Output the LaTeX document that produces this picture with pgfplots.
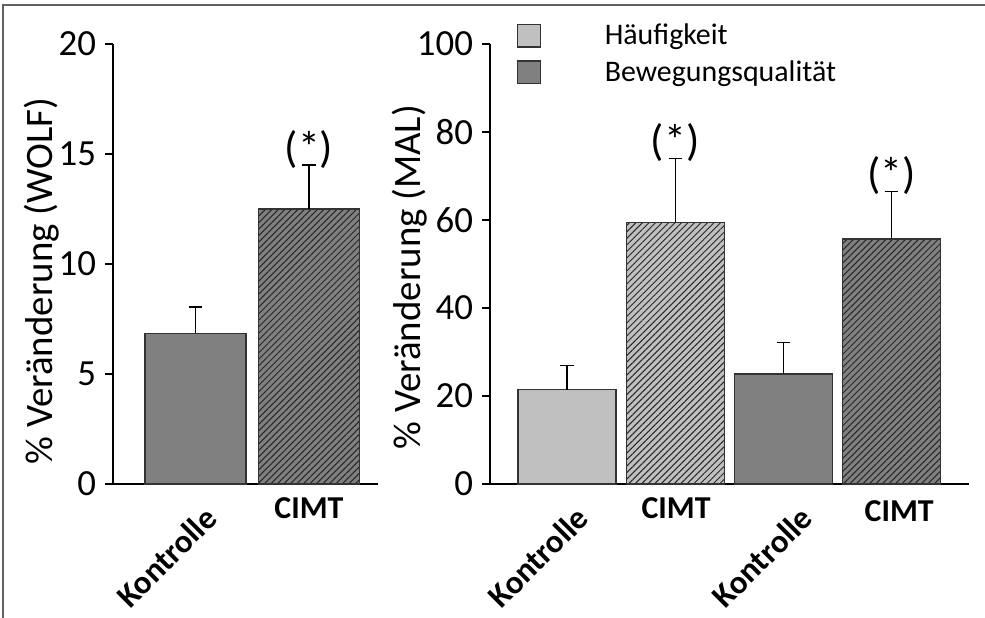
\documentclass[border=0pt]{standalone}
\usepackage{pgfplots}
\pgfplotsset{compat=1.18}
\usepackage{fontspec}
\setmainfont{Carlito}
\usetikzlibrary{patterns.meta,calc}
\definecolor{lightg}{HTML}{C0C0C0}
\definecolor{darkg}{HTML}{808080}
\definecolor{framec}{HTML}{606060}
\tikzset{
  hatch/.style={postaction={pattern={Lines[angle=45,distance=2.3bp,line width=0.5bp]}, pattern color=black!85}},
  klab/.style={font=\bfseries\fontsize{16.5}{18}\selectfont, rotate=45, anchor=center},
  clab/.style={font=\bfseries\fontsize{16}{18}\selectfont, anchor=center},
  slab/.style={font=\fontsize{22}{24}\selectfont, anchor=center},
}
\pgfplotsset{
  mybase/.style={
    scale only axis,
    axis lines*=left,
    height=220bp,
    ymin=0,
    xtick=\empty,
    tick align=outside,
    major tick length=4bp,
    axis line style={line width=0.9bp, black},
    x axis line style={shorten <=-3bp},
    ytick style={line width=0.9bp, black},
    /pgf/number format/assume math mode=true,
    yticklabel style={font=\fontsize{18.5}{20}\selectfont, xshift=-1bp},
    ylabel style={font=\fontsize{19.5}{22}\selectfont, anchor=center},
    clip=false,
  },
  barst/.style={ybar, bar width=0.89, bar shift=0pt, draw=black!80, line width=0.6bp,
    error bars/y dir=plus, error bars/y explicit,
    error bars/error bar style={line width=0.6bp, black},
    error bars/error mark options={rotate=90, line width=0.6bp, black, mark size=3.3bp}},
}
\begin{document}
\begin{tikzpicture}
\useasboundingbox (0,0) rectangle (492.5bp,-309bp);
\draw[framec, line width=0.9bp] (1.5bp,-330bp) -- (1.5bp,-2.5bp) -- (520bp,-2.5bp);
% Left panel
\begin{axis}[mybase,
  at={(56.5bp,-242bp)}, anchor=south west,
  width=132.5bp,
  xmin=-0.727, xmax=1.608,
  ymax=20, ytick={0,5,10,15,20},
  ylabel={\% Veränderung (WOLF)},
  ylabel style={at={(axis description cs:-0.268,0.461)}},
]
\addplot[barst, fill=darkg] coordinates {(0,6.85) +- (0,1.2)};
\addplot[barst, fill=darkg, hatch] coordinates {(1,12.5) +- (0,2.0)};
\node[slab] at ($(axis cs:1,14.5)+(0bp,8bp)$) {(*)};
\node[klab] at ($(axis cs:0,0)+(-14.5bp,-36.5bp)$) {Kontrolle};
\node[clab] at ($(axis cs:1,0)+(0bp,-12bp)$) {CIMT};
\end{axis}
% Right panel
\begin{axis}[mybase,
  at={(245bp,-242bp)}, anchor=south west,
  width=239.5bp,
  xmin=-0.713, xmax=3.72,
  ymax=100, ytick={0,20,40,60,80,100},
  ylabel={\% Veränderung (MAL)},
  ylabel style={at={(axis description cs:-0.167,0.47)}},
  legend style={draw=none, fill=none, at={(axis description cs:0.056,1.056)}, anchor=north west,
    font=\fontsize{15}{17}\selectfont, row sep=2.5bp, inner sep=0pt},
  legend cell align=left,
  legend image code/.code={\draw[#1] (0bp,-5.7bp) rectangle (11.5bp,5.7bp); \path[draw=none,fill=none] (0bp,0bp) -- (41.5bp,0bp);},
]
\addlegendimage{fill=lightg, draw=black!80, line width=0.6bp}
\addlegendentry{Häufigkeit}
\addlegendimage{fill=darkg, draw=black!80, line width=0.6bp}
\addlegendentry{Bewegungsqualität}
\addplot[barst, bar width=0.907, fill=lightg, forget plot] coordinates {(0,21.4) +- (0,5.5)};
\addplot[barst, bar width=0.907, fill=lightg, hatch, forget plot] coordinates {(1,59.5) +- (0,14.5)};
\addplot[barst, bar width=0.907, fill=darkg, forget plot] coordinates {(2,25.0) +- (0,7.1)};
\addplot[barst, bar width=0.907, fill=darkg, hatch, forget plot] coordinates {(3,55.7) +- (0,10.7)};
\node[slab] at ($(axis cs:1,74.0)+(0bp,8bp)$) {(*)};
\node[slab] at ($(axis cs:3,66.4)+(0bp,8bp)$) {(*)};
\node[klab] at ($(axis cs:0,0)+(-14.5bp,-36.5bp)$) {Kontrolle};
\node[clab] at ($(axis cs:1,0)+(0.5bp,-12bp)$) {CIMT};
\node[klab] at ($(axis cs:2,0)+(-10.5bp,-36.5bp)$) {Kontrolle};
\node[clab] at ($(axis cs:3,0)+(4bp,-13.5bp)$) {CIMT};
\end{axis}
\end{tikzpicture}
\end{document}
